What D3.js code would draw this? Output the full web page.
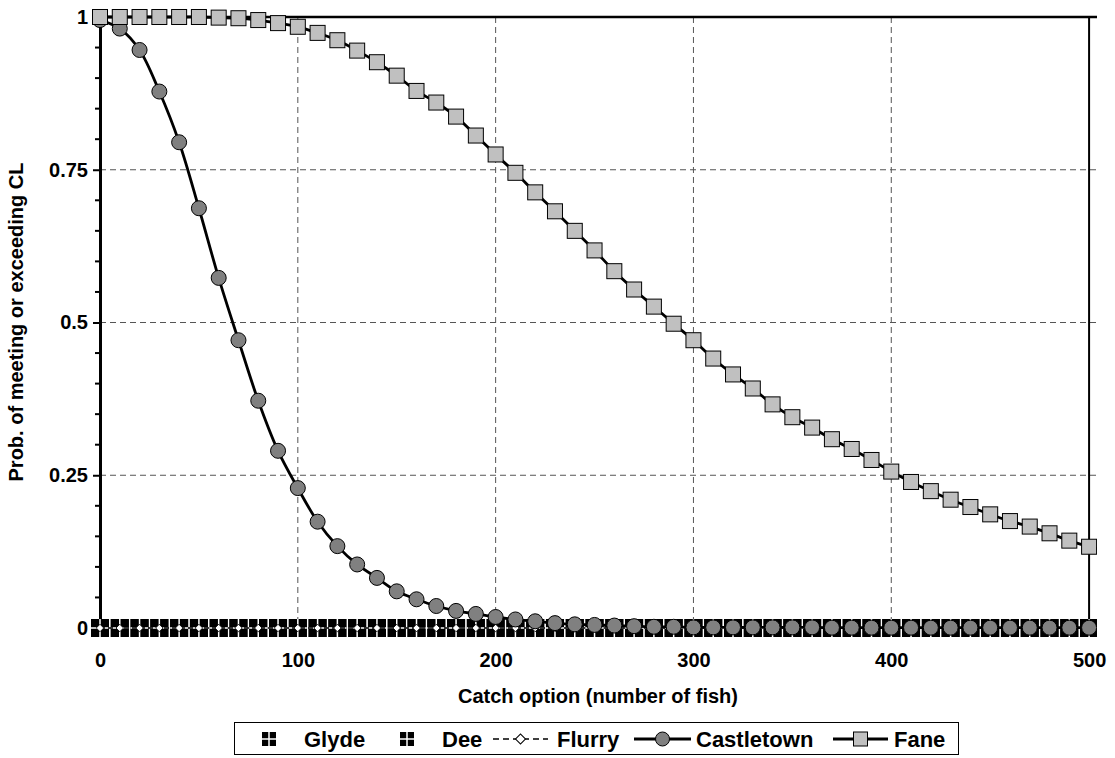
<!DOCTYPE html>
<html><head><meta charset="utf-8">
<script src="https://cdn.jsdelivr.net/npm/d3@7"></script>
<style>body{margin:0;background:#fff}svg{display:block;font-family:"Liberation Sans",Arial,sans-serif;font-weight:bold}</style>
</head><body><svg id="c" width="1115" height="758"></svg>
<script>
const catchOptions = d3.range(0, 511, 10);
const glyde = catchOptions.slice(0, 51).map(() => 0);
const dee = catchOptions.slice(0, 51).map(() => 0);
const flurry = catchOptions.slice(0, 51).map(() => 0);
const castletown = [0.995,0.981,0.946,0.878,0.795,0.687,0.573,0.471,0.372,0.290,0.229,0.174,0.134,0.104,0.082,0.060,0.047,0.036,0.028,0.023,0.018,0.014,0.011,0.008,0.006,0.005,0.004,0.003,0.002,0.002,0.001,0.001,0.001,0.001,0.001,0.001,0.001,0.0005,0.0005,0.0005,0.0005,0.0005,0.0005,0.0005,0.0005,0.0005,0.0005,0.0005,0.0005,0.0005,0.0005];
const fane = [1.0,1.0,1.0,1.0,1.0,1.0,0.999,0.998,0.995,0.99,0.984,0.974,0.962,0.945,0.926,0.904,0.879,0.860,0.837,0.806,0.775,0.745,0.713,0.682,0.650,0.618,0.584,0.554,0.526,0.498,0.471,0.441,0.415,0.392,0.366,0.345,0.328,0.309,0.293,0.275,0.256,0.239,0.224,0.210,0.198,0.186,0.175,0.166,0.155,0.143,0.133,0.125];
const xTicks = [0,100,200,300,400,500];
const yTicks = [0,0.25,0.5,0.75,1];
const yTickLabels = ["0","0.25","0.5","0.75","1"];
const legendNames = ["Glyde","Dee","Flurry","Castletown","Fane"];

const svg = d3.select("#c");
const L = 100, R = 1097, T = 17, B = 628;
const x = d3.scaleLinear().domain([0, 504]).range([L, R]);
const y = d3.scaleLinear().domain([0, 1]).range([B, T]);
const FONT = "Liberation Sans, Arial, sans-serif";

const defs = svg.append("defs");
defs.append("clipPath").attr("id","clip").append("rect").attr("x",L-12).attr("y",0).attr("width",R-L+12).attr("height",B+14);

// gridlines
const grid = svg.append("g").attr("stroke","#555").attr("stroke-width",1).attr("stroke-dasharray","6,4");
grid.selectAll("line.h").data(yTicks.filter(v=>v>0&&v<1)).join("line")
  .attr("x1",L).attr("x2",R).attr("y1",d=>y(d)).attr("y2",d=>y(d));
grid.selectAll("line.v").data(xTicks.filter(v=>v>0&&v<500)).join("line")
  .attr("x1",d=>x(d)).attr("x2",d=>x(d)).attr("y1",T).attr("y2",B);
svg.append("line").attr("x1",x(500)).attr("x2",x(500)).attr("y1",T).attr("y2",B).attr("stroke","#000").attr("stroke-width",2);
svg.append("line").attr("x1",L).attr("x2",R).attr("y1",T).attr("y2",T).attr("stroke","#000").attr("stroke-width",2.5);

// y axis
const yAxis = d3.axisLeft(y).tickValues(yTicks).tickFormat((d,i)=>yTickLabels[i]).tickSize(7).tickPadding(5);
const ya = svg.append("g").attr("transform",`translate(${L},0)`).call(yAxis);
ya.select(".domain").attr("stroke-width",3);
ya.selectAll(".tick line").attr("stroke-width",2);
ya.selectAll("text").attr("font-size",20).attr("font-weight","bold").attr("font-family",FONT).attr("fill","#000");
const minor = d3.range(0.05, 1, 0.05).filter(v => Math.abs(v*4 - Math.round(v*4)) > 1e-6);
ya.selectAll("line.minor").data(minor).join("line").attr("class","minor")
  .attr("x1",-5).attr("x2",0).attr("y1",d=>y(d)).attr("y2",d=>y(d)).attr("stroke","#000").attr("stroke-width",2);

// x axis labels
const xAxis = d3.axisBottom(x).tickValues(xTicks).tickSize(0).tickPadding(25);
const xa = svg.append("g").attr("transform",`translate(0,${B})`).call(xAxis);
xa.select(".domain").remove();
xa.selectAll("text").attr("font-size",20).attr("font-weight","bold").attr("font-family",FONT).attr("fill","#000");

// axis titles
svg.append("text").attr("x",598).attr("y",703).attr("text-anchor","middle").attr("font-size",20).text("Catch option (number of fish)");
svg.append("text").attr("transform","translate(23,322) rotate(-90)").attr("text-anchor","middle").attr("font-size",20).text("Prob. of meeting or exceeding CL");

const plot = svg.append("g").attr("clip-path","url(#clip)");
const pts = arr => arr.map((v,i)=>[catchOptions[i], v]);

function crossSquare(g, cx, cy, s) {
  g.append("rect").attr("x",cx-s/2).attr("y",cy-s/2).attr("width",s).attr("height",s).attr("fill","#000");
  g.append("line").attr("x1",cx).attr("x2",cx).attr("y1",cy-s/2).attr("y2",cy+s/2).attr("stroke","#fff").attr("stroke-width",1.5);
  g.append("line").attr("x1",cx-s/2).attr("x2",cx+s/2).attr("y1",cy).attr("y2",cy).attr("stroke","#fff").attr("stroke-width",1.5);
}
[glyde, dee].forEach(series => {
  const g = plot.append("g");
  pts(series).forEach(([cx,v]) => crossSquare(g, x(cx), y(v), 18));
});
const line = d3.line().x(d=>x(d[0])).y(d=>y(d[1]));
plot.append("path").datum(pts(flurry)).attr("d",line).attr("fill","none").attr("stroke","#000").attr("stroke-width",1.5).attr("stroke-dasharray","5,3");
plot.append("g").selectAll("path").data(pts(flurry)).join("path")
  .attr("transform",d=>`translate(${x(d[0])},${y(d[1])}) rotate(45)`).attr("d",d3.symbol().type(d3.symbolSquare).size(28)())
  .attr("fill","#fff").attr("stroke","#000").attr("stroke-width",0.8);

const curve = d3.line().x(d=>x(d[0])).y(d=>y(d[1])).curve(d3.curveCatmullRom.alpha(0.5));
plot.append("path").datum(pts(castletown)).attr("d",curve).attr("fill","none").attr("stroke","#000").attr("stroke-width",2.8);
plot.append("g").selectAll("circle").data(pts(castletown)).join("circle")
  .attr("cx",d=>x(d[0])).attr("cy",d=>y(d[1])).attr("r",7.5).attr("fill","#808080").attr("stroke","#000").attr("stroke-width",1);

plot.append("path").datum(pts(fane)).attr("d",curve).attr("fill","none").attr("stroke","#000").attr("stroke-width",2.8);
plot.append("g").selectAll("rect").data(pts(fane)).join("rect")
  .attr("x",d=>x(d[0])-7.5).attr("y",d=>y(d[1])-7.5).attr("width",15).attr("height",15)
  .attr("fill","#c0c0c0").attr("stroke","#000").attr("stroke-width",1);

// Legend
const lg = svg.append("g");
lg.append("rect").attr("x",234.5).attr("y",722.5).attr("width",724).attr("height",32).attr("fill","#fff").attr("stroke","#000").attr("stroke-width",1);
const ly = 739;
const legendItems = [
  {name: legendNames[0], kind:"cross", mx:269, tx:304},
  {name: legendNames[1], kind:"cross", mx:407, tx:442},
  {name: legendNames[2], kind:"diamond", l1:493, l2:548, tx:557},
  {name: legendNames[3], kind:"circle", l1:634, l2:691, tx:696},
  {name: legendNames[4], kind:"square", l1:833, l2:888, tx:894}
];
legendItems.forEach(it => {
  if (it.kind === "cross") {
    crossSquare(lg, it.mx, ly, 14);
  } else {
    const mx = (it.l1 + it.l2)/2;
    const ln = lg.append("line").attr("x1",it.l1).attr("x2",it.l2).attr("y1",ly).attr("y2",ly).attr("stroke","#000");
    if (it.kind === "diamond") {
      ln.attr("stroke-width",1.5).attr("stroke-dasharray","6,4");
      lg.append("path").attr("transform",`translate(${mx},${ly}) rotate(45)`).attr("d",d3.symbol().type(d3.symbolSquare).size(50)()).attr("fill","#fff").attr("stroke","#000").attr("stroke-width",1);
    } else if (it.kind === "circle") {
      ln.attr("stroke-width",2.8);
      lg.append("circle").attr("cx",mx).attr("cy",ly).attr("r",7).attr("fill","#808080").attr("stroke","#000");
    } else {
      ln.attr("stroke-width",2.8);
      lg.append("rect").attr("x",mx-7).attr("y",ly-7).attr("width",14).attr("height",14).attr("fill","#c0c0c0").attr("stroke","#000");
    }
  }
  lg.append("text").attr("x",it.tx).attr("y",ly+8).attr("font-size",22).text(it.name);
});
</script></body></html>
